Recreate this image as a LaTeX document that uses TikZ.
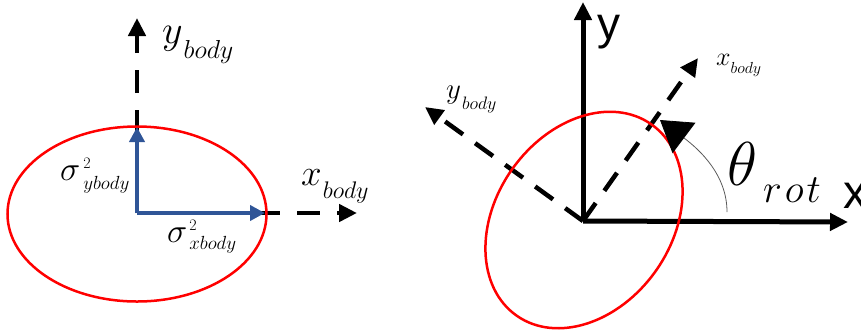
\RequirePackage{fix-cm}
\documentclass[tikz,border=0pt]{standalone}
\usepackage{fontspec}
\newfontfamily\arialf{Liberation Sans}
\usetikzlibrary{arrows.meta}
\newcommand\fsz[1]{\fontsize{#1}{#1}\selectfont}
\definecolor{sigblue}{RGB}{47,85,151}
\begin{document}
\begin{tikzpicture}[x=1pt,y=1pt,
  axis/.style={line width=5pt,-{Triangle[length=18pt,width=17pt]}},
  dashaxis/.style={line width=4.5pt,-{Triangle[length=18pt,width=17pt]},dash pattern=on 23pt off 17pt},
  sig/.style={sigblue,line width=4pt,-{Triangle[length=15pt,width=15pt]}},
  ell/.style={red,line width=2.5pt},
  lbl/.style={inner sep=0pt,anchor=base west}]
\useasboundingbox (0,0) rectangle (861,-333);
% ---------- left figure ----------
\coordinate (O1) at (137,-213);
\coordinate (X1) at (357,-213);
\coordinate (Y1) at (137,-18);
\coordinate (SX) at (265,-213);
\coordinate (SY) at (137,-127);
\draw[dashaxis] (O1) -- (X1);
\draw[dashaxis] (O1) -- (Y1);
\draw[ell] (137,-214) ellipse[x radius=129.5, y radius=87.5];
\draw[sig] (O1) -- (SX);
\draw[sig] (O1) -- (SY);
\node[lbl] (ylab1) at (162,-43) {\fsz{40}$y$\kern1pt\raisebox{-15pt}{\fsz{26}$body$}};
\node[lbl] (xlab1) at (301,-185) {\fsz{37}$x$\kern1pt\raisebox{-13pt}{\fsz{24}$body$}};
\node[lbl] (sy) at (60,-180) {\fsz{34}$\sigma$\kern3pt\rlap{\raisebox{12pt}{\fsz{16}2}}\raisebox{-9pt}{\fsz{19}$ybody$}};
\node[lbl] (sx) at (167,-242) {\fsz{34}$\sigma$\kern2pt\rlap{\raisebox{12pt}{\fsz{16}2}}\raisebox{-7pt}{\fsz{19}$xbody$}};
% ---------- right figure ----------
\coordinate (O2) at (583,-221);
\coordinate (Y2) at (583,-2);
\coordinate (X2) at (848,-222);
\coordinate (XB) at (698,-58);
\coordinate (YB) at (425,-107);
\coordinate (A0) at (727,-212);
\coordinate (A1) at (660,-120);
\draw[axis] (O2) -- (Y2);
\draw[axis] (O2) -- (X2);
\draw[dashaxis,dash pattern=on 22pt off 15pt] (O2) -- (XB);
\draw[dashaxis,dash pattern=on 22pt off 15pt] (O2) -- (YB);
\draw[ell,rotate around={54.8:(584,-220)}] (584,-220) ellipse[x radius=117, y radius=88];
\draw[gray!70!black,line width=0.8pt,-{Triangle[length=30pt,width=38pt,black]}] (A0) .. controls (727,-175) and (700,-150) .. (A1);
\node[lbl,font=\arialf] (ylab2) at (597,-39) {\fsz{46}y};
\node[lbl,font=\arialf] (xlab2) at (843,-208) {\fsz{48}x};
\node[lbl] (xb2) at (716,-65) {\fsz{26}$x$\raisebox{-8pt}{\fsz{16}$body$}};
\node[lbl] (yb2) at (446,-98) {\fsz{29}$y$\kern1pt\raisebox{-11pt}{\fsz{18}$body$}};
\node[lbl] (th) at (727,-185) {\fsz{62}$\theta$\kern6pt\raisebox{-17pt}{\fsz{40}$r\kern3pt o\kern3pt t$}};
\end{tikzpicture}
\end{document}
